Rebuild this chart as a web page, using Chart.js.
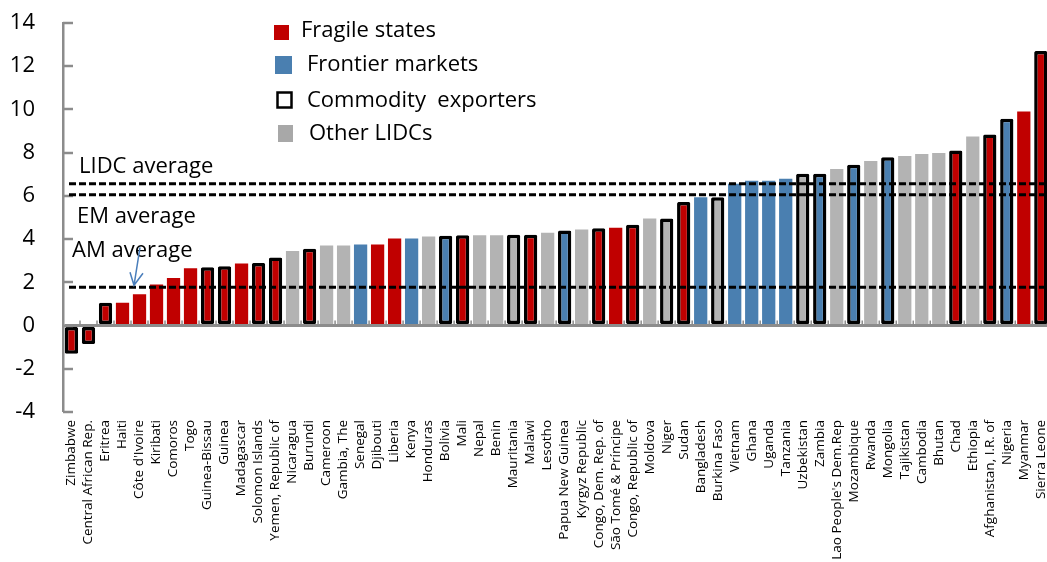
<!DOCTYPE html>
<html>
<head>
<meta charset="utf-8">
<script src="https://cdn.jsdelivr.net/npm/chart.js@4"></script>
<style>
  html, body { margin: 0; padding: 0; background: #fff; overflow: hidden; }
  #wrap { width: 1065px; height: 562px; }
</style>
</head>
<body>
<div id="wrap"><canvas id="chart" width="1065" height="562"></canvas></div>
<script>
// Countries, sorted by value
const countries = [
  "Zimbabwe", "Central African Rep.", "Eritrea", "Haiti", "Côte d'Ivoire", "Kiribati",
  "Comoros", "Togo", "Guinea-Bissau", "Guinea", "Madagascar", "Solomon Islands",
  "Yemen, Republic of", "Nicaragua", "Burundi", "Cameroon", "Gambia, The", "Senegal",
  "Djibouti", "Liberia", "Kenya", "Honduras", "Bolivia", "Mali", "Nepal", "Benin",
  "Mauritania", "Malawi", "Lesotho", "Papua New Guinea", "Kyrgyz Republic",
  "Congo, Dem. Rep. of", "São Tomé & Príncipe", "Congo, Republic of", "Moldova",
  "Niger", "Sudan", "Bangladesh", "Burkina Faso", "Vietnam", "Ghana", "Uganda",
  "Tanzania", "Uzbekistan", "Zambia", "Lao People's Dem.Rep", "Mozambique", "Rwanda",
  "Mongolia", "Tajikistan", "Cambodia", "Bhutan", "Chad", "Ethiopia",
  "Afghanistan, I.R. of", "Nigeria", "Myanmar", "Sierra Leone"
];

const values = [
  -1.3, -0.85, 1.05, 1.05, 1.45, 1.9, 2.2, 2.65, 2.7, 2.75, 2.87, 2.9,
  3.15, 3.45, 3.55, 3.7, 3.7, 3.75, 3.75, 4.03, 4.03, 4.12, 4.15, 4.18, 4.18, 4.18,
  4.2, 4.2, 4.3, 4.4, 4.44, 4.5, 4.53, 4.67, 4.95, 4.95, 5.72, 5.94, 5.94, 6.56,
  6.7, 6.7, 6.79, 7.02, 7.02, 7.25, 7.44, 7.62, 7.79, 7.85, 7.94, 7.99, 8.1, 8.75,
  8.84, 9.57, 9.9, 12.7
];

// F = fragile state, M = frontier market, O = other LIDC
const groups = [
  "F", "F", "F", "F", "F", "F", "F", "F", "F", "F", "F", "F",
  "F", "O", "F", "O", "O", "M", "F", "F", "M", "O", "M", "F", "O", "O",
  "O", "F", "O", "M", "O", "F", "F", "F", "O", "O", "F", "M", "O", "M",
  "M", "M", "M", "O", "M", "O", "M", "O", "M", "O", "O", "O", "F", "O",
  "F", "M", "F", "F"
];

// 1 = commodity exporter
const commodity = [
  1, 1, 1, 0, 0, 0, 0, 0, 1, 1, 0, 1,
  1, 0, 1, 0, 0, 0, 0, 0, 0, 0, 1, 1, 0, 0,
  1, 1, 0, 1, 0, 1, 0, 1, 0, 1, 1, 0, 1, 0,
  0, 0, 0, 1, 1, 0, 1, 0, 1, 0, 0, 0, 1, 0,
  1, 1, 0, 1
];

const avgNames = ["LIDC average", "EM average", "AM average"];
const avgValues = [6.56, 6.05, 1.77];

const legendNames = ["Fragile states", "Frontier markets", "Commodity  exporters", "Other LIDCs"];

const colors = { F: "#c00000", M: "#4a7fb0", O: "#b3b3b3" };
const FONT = '"Open Sans", "Noto Sans", sans-serif';

// Extra drawing: inward y ticks, category marks, average lines, labels, legend
const decor = {
  id: 'decor',
  afterDatasetsDraw(chart) {
    const { ctx, chartArea: a, scales: { x, y } } = chart;
    ctx.save();

    ctx.strokeStyle = '#8c8c8c';
    ctx.lineWidth = 2.5;
    y.ticks.forEach(t => {
      const py = Math.round(y.getPixelForValue(t.value));
      ctx.beginPath();
      ctx.moveTo(a.left, py);
      ctx.lineTo(a.left + 10, py);
      ctx.stroke();
    });

    const y0 = y.getPixelForValue(0);
    const half = (x.getPixelForValue(1) - x.getPixelForValue(0)) / 2;
    ctx.lineWidth = 1.5;
    countries.forEach((c, i) => {
      const px = x.getPixelForValue(i) + half;
      ctx.beginPath();
      ctx.moveTo(px, y0 - 5);
      ctx.lineTo(px, y0);
      ctx.stroke();
    });

    // average lines
    ctx.strokeStyle = '#000';
    ctx.lineWidth = 3;
    ctx.setLineDash([7, 3]);
    avgValues.forEach(v => {
      const py = y.getPixelForValue(v);
      ctx.beginPath();
      ctx.moveTo(a.left + 6, py);
      ctx.lineTo(1045, py);
      ctx.stroke();
    });
    ctx.setLineDash([]);

    ctx.font = '22px ' + FONT;
    ctx.fillStyle = '#000';
    ctx.textBaseline = 'alphabetic';
    ctx.textAlign = 'left';
    const offs = [[79, -11], [77, 28], [72, -30]];
    avgNames.forEach((n, i) => {
      const py = y.getPixelForValue(avgValues[i]);
      ctx.fillText(n, offs[i][0], py + offs[i][1]);
    });

    // arrow to AM line
    const amY = y.getPixelForValue(avgValues[2]) - 2;
    ctx.strokeStyle = '#4a7ebb';
    ctx.lineWidth = 1.5;
    ctx.beginPath();
    ctx.moveTo(140, amY - 38);
    ctx.lineTo(134, amY);
    ctx.moveTo(130, amY - 13);
    ctx.lineTo(134, amY);
    ctx.lineTo(143, amY - 12);
    ctx.stroke();

    // legend
    ctx.textBaseline = 'middle';
    ctx.fillStyle = colors.F;
    ctx.fillRect(274, 25, 15, 15);
    ctx.fillStyle = colors.M;
    ctx.fillRect(275, 56, 17, 18);
    ctx.strokeStyle = '#000';
    ctx.lineWidth = 2.5;
    ctx.strokeRect(277.5, 92.5, 14, 15);
    ctx.fillStyle = '#a8a8a8';
    ctx.fillRect(278, 125, 15, 17);
    ctx.fillStyle = '#000';
    ctx.fillText(legendNames[0], 301, 31);
    ctx.fillText(legendNames[1], 307, 65);
    ctx.fillText(legendNames[2], 307, 101);
    ctx.fillText(legendNames[3], 309, 134);

    ctx.restore();
  }
};

new Chart(document.getElementById('chart'), {
  type: 'bar',
  data: {
    labels: countries,
    datasets: [{
      data: values,
      backgroundColor: groups.map(g => colors[g]),
      borderColor: commodity.map(c => c ? '#000' : 'rgba(0,0,0,0)'),
      borderWidth: commodity.map(c => c ? 3.5 : 0),
      borderSkipped: false,
      borderRadius: commodity.map(c => c ? 1.5 : 0),
      categoryPercentage: 1,
      barPercentage: 0.78
    }]
  },
  options: {
    responsive: false,
    animation: false,
    layout: { padding: { top: 23, left: 0, right: 0, bottom: 0 } },
    plugins: {
      legend: { display: false },
      tooltip: { enabled: false }
    },
    scales: {
      x: {
        grid: { display: false, drawTicks: false },
        border: { display: false },
        afterFit: s => { s.height = 150; },
        ticks: {
          autoSkip: false,
          minRotation: 90,
          maxRotation: 90,
          padding: 8,
          color: '#000',
          font: { family: FONT, size: 13.5 }
        }
      },
      y: {
        min: -4,
        max: 14,
        afterFit: s => { s.width = 63; s.paddingTop = 0; s.paddingBottom = 0; },
        border: { display: true, color: '#8c8c8c', width: 2.5 },
        grid: {
          drawTicks: false,
          color: c => c.tick && c.tick.value === 0 ? '#8c8c8c' : 'rgba(0,0,0,0)',
          lineWidth: c => c.tick && c.tick.value === 0 ? 3 : 0
        },
        ticks: {
          stepSize: 2,
          padding: 28,
          color: '#000',
          font: { family: FONT, size: 22 }
        }
      }
    }
  },
  plugins: [decor]
});
</script>
</body>
</html>
